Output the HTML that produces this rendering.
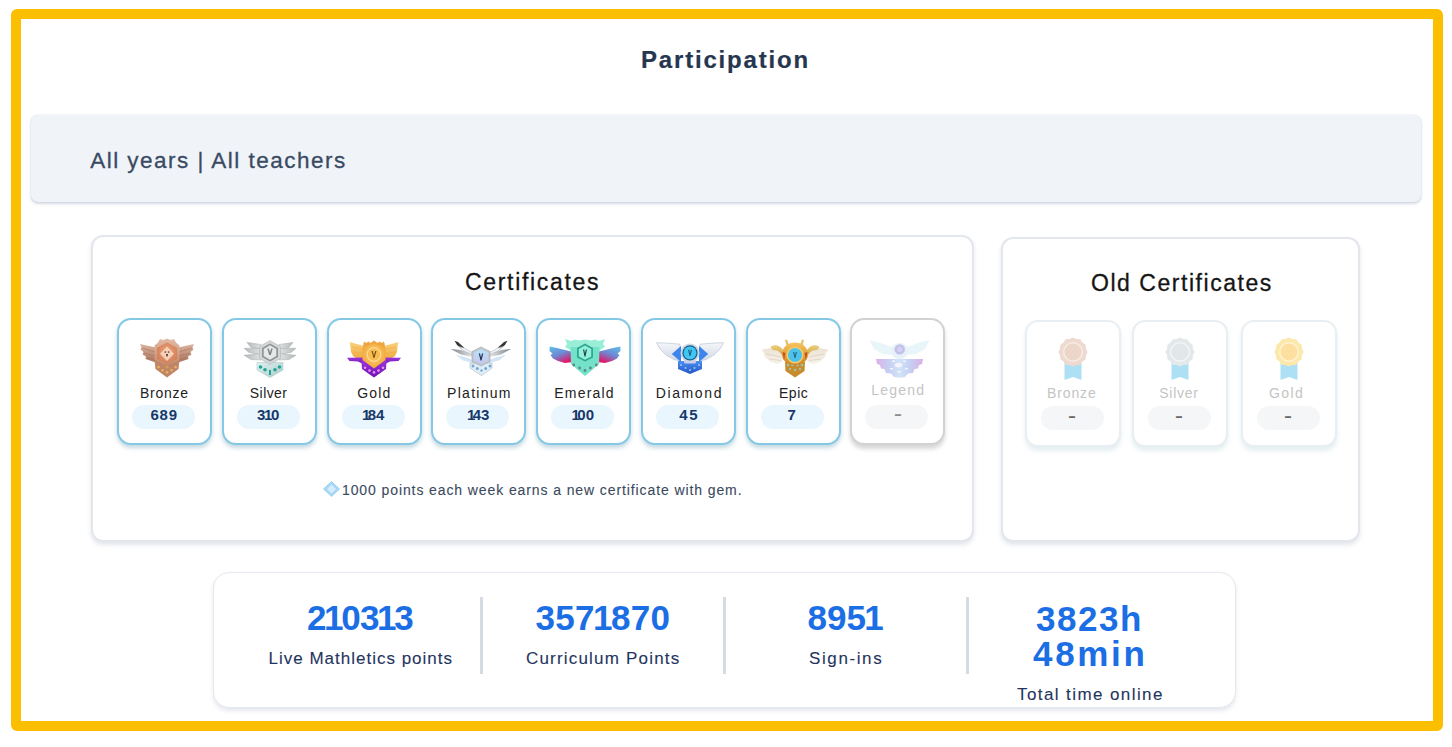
<!DOCTYPE html>
<html><head><meta charset="utf-8"><title>Participation</title>
<style>
*{box-sizing:border-box;margin:0;padding:0}
html,body{width:1452px;height:747px;overflow:hidden;background:#fff;font-family:"Liberation Sans",Arial,sans-serif}
.frame{position:absolute;left:11px;top:9px;width:1432px;height:722px;border:10px solid #fcbf00;border-radius:6px}
.t{position:absolute;white-space:nowrap;line-height:1;-webkit-text-stroke:0.3px currentColor}
#title{left:641px;top:47.5px;font-size:24px;letter-spacing:1.82px;font-weight:bold;color:#26364f;-webkit-text-stroke:0.2px currentColor}
.band{position:absolute;left:30.5px;top:115px;width:1390px;height:87px;background:#f0f4f8;border-radius:7px;box-shadow:0 0 1.5px rgba(60,80,120,.22),0 2px 3px rgba(60,80,130,.2)}
#bandt{left:90.2px;top:150px;font-size:22.5px;letter-spacing:1.48px;color:#3a4a63}
.card{position:absolute;background:#fff;border:2px solid #e3e7ec;border-radius:12px;box-shadow:0 3px 4px rgba(80,100,130,.16)}
#c1{left:90.5px;top:234.5px;width:883px;height:307.5px}
#c2{left:1001px;top:236.5px;width:359px;height:305.5px}
#ct1{left:465px;top:270.5px;font-size:23px;letter-spacing:1.67px;color:#151515}
#ct2{left:1091px;top:272px;font-size:23px;letter-spacing:1.54px;color:#151515}
.tile{position:absolute;top:318px;width:95px;height:127px;border:2px solid #84c8e6;border-radius:14px;background:#fff;box-shadow:0 3px 4px rgba(70,135,160,.32)}
.tile.gray{border-color:#d2d2d2;box-shadow:0 4px 4px rgba(0,0,0,.16)}
.pill{position:absolute;top:404.5px;width:63px;height:24px;border-radius:12px;background:#eaf6fd}
.pill.g{background:#f5f6f8}
.lb{position:absolute;font-size:14px;color:#222;line-height:1;white-space:nowrap}
.lb.g{color:#c4c4c4}
.nm{position:absolute;font-size:15px;font-weight:bold;color:#17386a;line-height:1;white-space:nowrap}
.nm.g{color:#6a6a6a}
.otile{position:absolute;top:319.5px;width:96px;height:127px;border:2px solid #e8eef1;border-radius:13px;background:#fff;box-shadow:0 4px 4px rgba(150,190,200,.25)}
.badge{position:absolute;top:338px;width:80px;height:42px}
.rose{position:absolute;top:337px;width:40px;height:44px}
#note{left:342px;top:483px;font-size:14px;letter-spacing:0.9px;color:#3a4a5e;-webkit-text-stroke:0.1px currentColor}
.gem{position:absolute;left:323px;top:481px;width:17px;height:16px}
.stats{position:absolute;left:213px;top:572px;width:1023px;height:135.5px;border:1px solid #e4e9ef;border-radius:16px;background:#fff;box-shadow:0 3px 4px rgba(80,100,130,.15)}
.div{position:absolute;top:597px;width:3px;height:77px;background:#d3dbe4}
.sn{position:absolute;font-size:35px;font-weight:bold;color:#1b6ee4;line-height:1;white-space:nowrap}
.sn .o{margin:0 -1.75px}
.sl{position:absolute;font-size:17px;color:#1f3560;line-height:1;white-space:nowrap;-webkit-text-stroke:0.1px currentColor}
</style></head><body>
<div class="frame"></div>
<div class="t" id="title">Participation</div>
<div class="band"></div>
<div class="t" id="bandt">All years | All teachers</div>
<div class="card" id="c1"></div>
<div class="card" id="c2"></div>
<div class="t" id="ct1">Certificates</div>
<div class="t" id="ct2">Old Certificates</div>

<div class="tile" style="left:117.2px"></div>
<svg class="badge" style="left:126.5px" viewBox="0 0 80 42"><defs><linearGradient id="gbw" x1="0" y1="0" x2="0" y2="1"><stop offset="0" stop-color="#dcb4a0"/><stop offset="1" stop-color="#a9735b"/></linearGradient>
<linearGradient id="gbs" x1="0" y1="0" x2="0" y2="1"><stop offset="0" stop-color="#e2bba6"/><stop offset="1" stop-color="#c68a6a"/></linearGradient>
<radialGradient id="gbi" cx="0.5" cy="0.45" r="0.6"><stop offset="0" stop-color="#f1a57c"/><stop offset="1" stop-color="#cf7c55"/></radialGradient></defs>
<path d="M29,9.5 L13,6 L14.5,9.5 L13.5,11.5 L16.5,14 L15.5,16.5 L19,18.5 L18.5,21 L23,22.5 L29,24.5 Z" fill="url(#gbw)"/>
<path d="M51,9.5 L67,6 L65.5,9.5 L66.5,11.5 L63.5,14 L64.5,16.5 L61,18.5 L61.5,21 L57,22.5 L51,24.5 Z" fill="url(#gbw)"/>
<g stroke="#a06a54" stroke-width="0.6" fill="none" opacity="0.75"><path d="M15,10 L28,14 M17,15 L28,18 M20,19.5 L28,21.5"/><path d="M65,10 L52,14 M63,15 L52,18 M60,19.5 L52,21.5"/></g>
<path d="M27.5,22 L52.5,22 L51.5,31 L40,39.5 L28.5,31 Z" fill="#bf8566"/>
<path d="M40,0.5 L43.5,2 L47,1 L49,4.5 L52.5,7.5 L52.5,22 L40,27.5 L27.5,22 L27.5,7.5 L31,4.5 L33,1 L36.5,2 Z" fill="url(#gbs)"/>
<path d="M40,4.5 L50,9.8 L50,21 L40,25.5 L30,21 L30,9.8 Z" fill="url(#gbi)"/>
<path d="M40,8.5 L47,15.8 L40,23 L33,15.8 Z" fill="#f7d0b8"/>
<rect x="37.6" y="13.4" width="1.5" height="1.3" fill="#5a3a30"/><rect x="40.9" y="13.4" width="1.5" height="1.3" fill="#5a3a30"/><path d="M39,16 L41,16 L40.6,18.6 L39.4,18.6 Z" fill="#5a3a30"/>
<g fill="#e8b25e"><circle cx="31.5" cy="29" r="1.3"/><circle cx="35.5" cy="32.3" r="1.3"/><circle cx="40" cy="34.3" r="1.3"/><circle cx="44.5" cy="32.3" r="1.3"/><circle cx="48.5" cy="29" r="1.3"/><circle cx="40" cy="29" r="1.6" fill="#d89a58"/></g></svg>
<div class="pill" style="left:132.2px"></div>
<div class="lb" style="left:140.0px;top:385.5px;letter-spacing:0.74px">Bronze</div>
<div class="nm" style="left:150.4px;top:407.2px;letter-spacing:0.80px">689</div>
<div class="tile" style="left:221.9px"></div>
<svg class="badge" style="left:230.2px" viewBox="0 0 80 42"><defs><linearGradient id="gsw" x1="0" y1="0" x2="1" y2="0"><stop offset="0" stop-color="#b4b8b8"/><stop offset="1" stop-color="#e2e4e4"/></linearGradient>
<linearGradient id="gsw2" x1="1" y1="0" x2="0" y2="0"><stop offset="0" stop-color="#b4b8b8"/><stop offset="1" stop-color="#e2e4e4"/></linearGradient>
<linearGradient id="gsb" x1="0" y1="0" x2="1" y2="1"><stop offset="0" stop-color="#dff0f0"/><stop offset="1" stop-color="#a9cccb"/></linearGradient></defs>
<g fill="url(#gsw)" stroke="#a7acac" stroke-width="0.5"><path d="M17,4.4 L31,6.5 L31,11.5 L21,9.5 Z"/><path d="M14,10.2 L31,10.5 L31,16.5 L19,14.5 Z"/><path d="M14,17.3 L31,15.5 L31,22 L21,21.5 Z"/></g>
<g fill="url(#gsw2)" stroke="#a7acac" stroke-width="0.5"><path d="M63,4.4 L49,6.5 L49,11.5 L59,9.5 Z"/><path d="M66,10.2 L49,10.5 L49,16.5 L61,14.5 Z"/><path d="M66,17.3 L49,15.5 L49,22 L59,21.5 Z"/></g>
<path d="M27,24.5 L53,24.5 L53,32 L40,39.5 L27,32 Z" fill="url(#gsb)" stroke="#a5c0c0" stroke-width="0.5"/>
<g fill="#22a596"><circle cx="30.5" cy="29" r="1.8"/><circle cx="35" cy="31.8" r="1.8"/><circle cx="45" cy="31.8" r="1.8"/><circle cx="49.5" cy="29" r="1.8"/><rect x="39" y="32" width="2" height="5"/></g>
<path d="M40,2.5 L50.5,8.5 L50.5,20.5 L40,26.5 L29.5,20.5 L29.5,8.5 Z" fill="#d3d6d6" stroke="#b4b9b9" stroke-width="0.6"/>
<path d="M40,5.5 L48,10 L48,19 L40,23.5 L32,19 L32,10 Z" fill="#8d9595"/>
<path d="M40,7.3 L46.3,11 L46.3,18 L40,21.7 L33.7,18 L33.7,11 Z" fill="#e6e8e8"/>
<path d="M37.3,10.5 L39.2,17 L40.8,17 L42.7,10.5 L41.2,10.5 L40,14.5 L38.8,10.5 Z" fill="#7b8383"/></svg>
<div class="pill" style="left:236.9px"></div>
<div class="lb" style="left:249.8px;top:385.5px;letter-spacing:0.44px">Silver</div>
<div class="nm" style="left:257.0px;top:407.2px;letter-spacing:0px">3<span style="margin:0 -1.3px">1</span>0</div>
<div class="tile" style="left:326.6px"></div>
<svg class="badge" style="left:334.2px" viewBox="0 0 80 42"><defs><linearGradient id="ggw" x1="0" y1="0" x2="0" y2="1"><stop offset="0" stop-color="#f9d27e"/><stop offset="1" stop-color="#f0aa40"/></linearGradient>
<linearGradient id="ggp" x1="0" y1="0" x2="0" y2="1"><stop offset="0" stop-color="#9b35dc"/><stop offset="1" stop-color="#6c12b4"/></linearGradient>
<radialGradient id="ggc" cx="0.5" cy="0.45" r="0.6"><stop offset="0" stop-color="#fcd27a"/><stop offset="1" stop-color="#f3a534"/></radialGradient></defs>
<path d="M30,8 L15.7,4 L16.5,9 L17,14 L19,18 L22,20 L30,21 Z" fill="url(#ggw)"/>
<path d="M50,8 L64.3,4 L63.5,9 L63,14 L61,18 L58,20 L50,21 Z" fill="url(#ggw)"/>
<g stroke="#e09a30" stroke-width="0.5" opacity="0.6"><path d="M18,9 L29,11 M19,14 L29,15.5"/><path d="M62,9 L51,11 M61,14 L51,15.5"/></g>
<path d="M13,19.8 L31,19.5 L32,27.5 L24,23.5 L15.5,23 Z" fill="url(#ggp)"/>
<path d="M67,19.8 L49,19.5 L48,27.5 L56,23.5 L64.5,23 Z" fill="url(#ggp)"/>
<path d="M27.5,22.5 L52.5,22.5 L52,31 L40,39.5 L28,31 Z" fill="url(#ggp)"/>
<g fill="#f08ef0"><circle cx="31" cy="29.8" r="1.3"/><circle cx="35.5" cy="32.6" r="1.3"/><circle cx="40" cy="34.4" r="1.3"/><circle cx="44.5" cy="32.6" r="1.3"/><circle cx="49" cy="29.8" r="1.3"/></g>
<path d="M29.5,5 L30.5,3.5 L32,5 L34.5,3.5 L36.5,5 L40,2.5 L43.5,5 L45.5,3.5 L48,5 L49.5,3.5 L50.5,5 L51,9 L29,9 Z" fill="#eea640"/>
<path d="M40,5.5 L51.5,9.5 L51.5,22 L40,30.5 L28.5,22 L28.5,9.5 Z" fill="url(#ggc)"/>
<circle cx="40" cy="16.5" r="6.8" fill="#f8bd52" stroke="#fbdc98" stroke-width="1.2"/>
<path d="M37.5,13 L39.5,20 L40.5,20 L42.5,13 L41.2,13 L40,17.5 L38.8,13 Z" fill="#7e5014"/></svg>
<div class="pill" style="left:341.6px"></div>
<div class="lb" style="left:357.2px;top:385.5px;letter-spacing:1.20px">Gold</div>
<div class="nm" style="left:362.0px;top:407.2px;letter-spacing:0px"><span style="margin-right:-2.6px">1</span>84</div>
<div class="tile" style="left:431.4px"></div>
<svg class="badge" style="left:440.6px" viewBox="0 0 80 42"><defs><linearGradient id="gpg" x1="0" y1="0" x2="1" y2="0"><stop offset="0" stop-color="#7d8186"/><stop offset="1" stop-color="#e4e7ea"/></linearGradient>
<linearGradient id="gpg2" x1="1" y1="0" x2="0" y2="0"><stop offset="0" stop-color="#7d8186"/><stop offset="1" stop-color="#e4e7ea"/></linearGradient>
<linearGradient id="gph" x1="0" y1="0" x2="0" y2="1"><stop offset="0" stop-color="#b6e4f8"/><stop offset="1" stop-color="#c8c6f0"/></linearGradient></defs>
<path d="M13.5,2.8 L17,4 L23,9.5 L21.5,11.5 L16,7 Z" fill="#353535"/>
<path d="M66.5,2.8 L63,4 L57,9.5 L58.5,11.5 L64,7 Z" fill="#353535"/>
<path d="M9.8,10.9 L20,12 L31,16 L31,19 L20,16.5 Z" fill="url(#gpg)"/>
<path d="M70.2,10.9 L60,12 L49,16 L49,19 L60,16.5 Z" fill="url(#gpg2)"/>
<path d="M18,8.5 L23,10 L32,15 L31,16.5 L22,12.5 Z" fill="#f4f5f6" stroke="#9aa0a6" stroke-width="0.5"/>
<path d="M62,8.5 L57,10 L48,15 L49,16.5 L58,12.5 Z" fill="#f4f5f6" stroke="#9aa0a6" stroke-width="0.5"/>
<path d="M14.7,16.7 L24,19 L32,22 L32,25 L22,22.5 Z" fill="#d2e4f6"/>
<path d="M65.3,16.7 L56,19 L48,22 L48,25 L58,22.5 Z" fill="#d2e4f6"/>
<path d="M29,25 L51,25 L51,30 L40.5,37.6 L29,30 Z" fill="#e0eef8" stroke="#a8b4c0" stroke-width="0.6"/>
<g fill="#74a8d2"><circle cx="32" cy="28" r="1.5"/><circle cx="36.3" cy="30.5" r="1.5"/><circle cx="44.7" cy="30.5" r="1.5"/><circle cx="49" cy="28" r="1.5"/><circle cx="40.5" cy="32.5" r="1.2"/></g>
<path d="M40,9 L49,13.5 L49,23.5 L40,28 L31,23.5 L31,13.5 Z" fill="#c2c8ce" stroke="#9aa2aa" stroke-width="0.6"/>
<path d="M40,11.3 L47,14.8 L47,22.5 L40,26 L33,22.5 L33,14.8 Z" fill="url(#gph)"/>
<path d="M37.8,15.5 L39.5,22.5 L40.5,22.5 L42.2,15.5 L41,15.5 L40,19.5 L39,15.5 Z" fill="#22304e"/></svg>
<div class="pill" style="left:446.4px"></div>
<div class="lb" style="left:447.1px;top:385.5px;letter-spacing:1.27px">Platinum</div>
<div class="nm" style="left:467.0px;top:407.2px;letter-spacing:0px"><span style="margin-right:-2.6px">1</span>43</div>
<div class="tile" style="left:536.1px"></div>
<svg class="badge" style="left:544.5px" viewBox="0 0 80 42"><defs><linearGradient id="gew" x1="0" y1="0" x2="0.6" y2="1"><stop offset="0" stop-color="#5cc0ea"/><stop offset="0.55" stop-color="#6f86d2"/><stop offset="1" stop-color="#e2186a"/></linearGradient>
<linearGradient id="gew2" x1="1" y1="0" x2="0.4" y2="1"><stop offset="0" stop-color="#5cc0ea"/><stop offset="0.55" stop-color="#6f86d2"/><stop offset="1" stop-color="#e2186a"/></linearGradient></defs>
<path d="M4.7,8.5 L12,10 L20,12 L28,14 L28,24 L20,25 L13,23 L8,20.5 L5.5,17 L7.5,15.5 L4.5,13 Z" fill="url(#gew)"/>
<path d="M75.3,8.5 L68,10 L60,12 L52,14 L52,24 L60,25 L67,23 L72,20.5 L74.5,17 L72.5,15.5 L75.5,13 Z" fill="url(#gew2)"/>
<path d="M20,1 L26,3 L30,1.5 L34,2.5 L40,1.5 L46,2.5 L50,1.5 L54,3 L60,1 L58,6 L60,9 L55,12 L53,15 L27,15 L25,12 L20,9 L22,6 Z" fill="#9aeed8"/>
<path d="M25.5,9 L54.5,9 L54,26 L40,38 L26,26 Z" fill="#74e2c8"/>
<path d="M40,5.6 L48,10 L48,19.5 L40,23.5 L32,19.5 L32,10 Z" fill="#2ea88e"/>
<path d="M40,7.6 L46.2,11.1 L46.2,18.5 L40,21.7 L33.8,18.5 L33.8,11.1 Z" fill="#92f0dc"/>
<path d="M38,11.5 L39.5,18.5 L40.5,18.5 L42,11.5 L40.8,11.5 L40,15.2 L39.2,11.5 Z" fill="#1a4842"/>
<g fill="#5b8c84"><circle cx="28.7" cy="27" r="1.4"/><circle cx="34.6" cy="30" r="1.4"/><circle cx="40" cy="32.5" r="1.4"/><circle cx="45.4" cy="30" r="1.4"/><circle cx="51.3" cy="27" r="1.4"/></g></svg>
<div class="pill" style="left:551.1px"></div>
<div class="lb" style="left:554.3px;top:385.5px;letter-spacing:1.20px">Emerald</div>
<div class="nm" style="left:571.6px;top:407.2px;letter-spacing:0px"><span style="margin-right:-2.6px">1</span>00</div>
<div class="tile" style="left:640.8px"></div>
<svg class="badge" style="left:649.5px" viewBox="0 0 80 42"><defs><linearGradient id="gdw" x1="0" y1="0" x2="0" y2="1"><stop offset="0" stop-color="#f4f6fa"/><stop offset="1" stop-color="#d0d9e6"/></linearGradient>
<linearGradient id="gdb" x1="0" y1="0" x2="0" y2="1"><stop offset="0" stop-color="#4a90f0"/><stop offset="1" stop-color="#2456c6"/></linearGradient></defs>
<path d="M6.5,4.7 L18,5.2 L30,6.2 L30,23 L24,21.5 L16,17 L10,11 Z" fill="url(#gdw)" stroke="#bcc6d4" stroke-width="0.7"/>
<path d="M73.5,4.7 L62,5.2 L50,6.2 L50,23 L56,21.5 L64,17 L70,11 Z" fill="url(#gdw)" stroke="#bcc6d4" stroke-width="0.7"/>
<path d="M21.8,16 L31,8 L31,24 Z" fill="#3d84ec"/>
<path d="M58.2,16 L49,8 L49,24 Z" fill="#3d84ec"/>
<path d="M28,23 L52,23 L52,31 L40,36 L28,31 Z" fill="url(#gdb)"/>
<g fill="#a8c0f6"><circle cx="31" cy="27" r="1"/><circle cx="35.5" cy="30" r="1"/><circle cx="40" cy="32" r="1"/><circle cx="44.5" cy="30" r="1"/><circle cx="49" cy="27" r="1"/></g>
<rect x="34" y="21.5" width="12" height="4" rx="1.5" fill="#cfc8ec"/>
<circle cx="40" cy="14.9" r="9.5" fill="#cdd6e4"/>
<circle cx="40" cy="14.9" r="7.6" fill="#1c5f8e"/>
<circle cx="40" cy="14.9" r="6.4" fill="#40c6f2"/>
<path d="M38,11.8 L39.5,18 L40.5,18 L42,11.8 L40.8,11.8 L40,15.3 L39.2,11.8 Z" fill="#1f5f8a"/></svg>
<div class="pill" style="left:655.8px"></div>
<div class="lb" style="left:655.7px;top:385.5px;letter-spacing:1.62px">Diamond</div>
<div class="nm" style="left:679.2px;top:407.2px;letter-spacing:1.60px">45</div>
<div class="tile" style="left:745.5px"></div>
<svg class="badge" style="left:755.0px" viewBox="0 0 80 42"><defs><linearGradient id="gxw" x1="0" y1="0" x2="0" y2="1"><stop offset="0" stop-color="#ece3d4"/><stop offset="1" stop-color="#f7f1ea"/></linearGradient>
<linearGradient id="gxb" x1="0" y1="0" x2="0" y2="1"><stop offset="0" stop-color="#f6c45e"/><stop offset="1" stop-color="#d08422"/></linearGradient>
<linearGradient id="gxh" x1="0" y1="0" x2="0" y2="1"><stop offset="0" stop-color="#ecd07a"/><stop offset="1" stop-color="#c99a3a"/></linearGradient></defs>
<path d="M6.7,11.5 L16,10 L27,13 L27.5,24 L22,26 L15,23.5 L10,19 L9,15.5 Z" fill="url(#gxw)"/>
<path d="M73.3,11.5 L64,10 L53,13 L52.5,24 L58,26 L65,23.5 L70,19 L71,15.5 Z" fill="url(#gxw)"/>
<g stroke="#cdbfa8" stroke-width="0.5" fill="none"><path d="M11,16 L26,19 M14,21 L26,22.5"/><path d="M69,16 L54,19 M66,21 L54,22.5"/></g>
<path d="M15.5,9 C19,5.5 26,7 28.5,13 L28.5,20.5 C26.5,15 23,11.5 18,12 Z" fill="url(#gxh)"/>
<path d="M64.5,9 C61,5.5 54,7 51.5,13 L51.5,20.5 C53.5,15 57,11.5 62,12 Z" fill="url(#gxh)"/>
<path d="M30,2 L32,1.5 L34,7 L31.5,7.5 Z" fill="#e6bf6a"/><path d="M49,2 L47,1.5 L45,7 L47.5,7.5 Z" fill="#e6bf6a"/>
<path d="M30,24 L50,24 L49.5,33 L40,39.5 L30.5,33 Z" fill="#c98a2a"/>
<g fill="#9fbfa6"><circle cx="33" cy="27" r="1.4"/><circle cx="37.5" cy="27" r="1.4"/><circle cx="42.5" cy="27" r="1.4"/><circle cx="47" cy="27" r="1.4"/><circle cx="35" cy="31" r="1.3"/><circle cx="40" cy="32" r="1.3"/><circle cx="45" cy="31" r="1.3"/></g>
<path d="M40,4.4 C47,4.4 53,9 53,16.5 C53,22 49,26 40,27 C31,26 27,22 27,16.5 C27,9 33,4.4 40,4.4 Z" fill="url(#gxb)"/>
<path d="M27.5,14 L29,22 L30.5,15 Z M52.5,14 L51,22 L49.5,15 Z" fill="#c8501c"/>
<circle cx="40" cy="17" r="8.6" fill="#f5cd6a"/>
<circle cx="40" cy="17" r="7.1" fill="#4fc2ea"/>
<path d="M38,14 L39.5,20 L40.5,20 L42,14 L40.8,14 L40,17.5 L39.2,14 Z" fill="#1f6a96"/></svg>
<div class="pill" style="left:760.5px"></div>
<div class="lb" style="left:779.0px;top:385.5px;letter-spacing:0.53px">Epic</div>
<div class="nm" style="left:787.6px;top:407.2px;letter-spacing:0.00px">7</div>
<div class="tile gray" style="left:850.2px"></div>
<svg class="badge" style="left:859.0px" viewBox="0 0 80 42"><defs><linearGradient id="glg" x1="0" y1="0" x2="1" y2="0"><stop offset="0" stop-color="#d39ade"/><stop offset="0.28" stop-color="#b6c4f0"/><stop offset="0.5" stop-color="#c6dcf6"/><stop offset="0.72" stop-color="#b6c4f0"/><stop offset="1" stop-color="#d39ade"/></linearGradient></defs>
<g opacity="0.78">
<path d="M10.5,2 L22,5 L33,9 L35,17 L24,16 L15,11 Z" fill="#e2f3f8"/>
<path d="M70.5,2 L59,5 L48,9 L46,17 L57,16 L66,11 Z" fill="#e2f3f8"/>
<ellipse cx="40.7" cy="13" rx="8.5" ry="8" fill="#e2eef9"/>
<path d="M17,21 L64,21 L63,26 L60,27 L59,30.5 L55.5,31 L54,35 L49,35.5 L46,39 L40.5,39.8 L35,39 L32,35.5 L27,35 L25.5,31 L22,30.5 L21,27 L18,26 Z" fill="url(#glg)"/>
<circle cx="40.7" cy="11.4" r="5.2" fill="#b0b0e4"/>
<circle cx="40.7" cy="11.4" r="2.6" fill="#c8c4ee"/>
<ellipse cx="39.5" cy="27" rx="3.8" ry="2.3" fill="#f6f0fb"/>
<g fill="#eef5fd"><rect x="33" y="22.5" width="3" height="1.4"/><rect x="44" y="22.5" width="3" height="1.4"/><rect x="31" y="30" width="3" height="1.4"/><rect x="46" y="30" width="3" height="1.4"/><rect x="38.5" y="33" width="3" height="1.4"/></g>
</g></svg>
<div class="pill g" style="left:865.2px"></div>
<div class="lb g" style="left:871.3px;top:383.3px;letter-spacing:1.22px">Legend</div>
<div class="nm g" style="left:893.5px;top:405.5px;width:8px;text-align:center;transform:scaleX(1.6);color:#8c8c8c">-</div>
<div class="otile" style="left:1024.8px"></div>
<svg class="rose" style="left:1052.8px" viewBox="0 0 40 44"><path d="M11.5,24 L28.5,24 L28.5,43 L20,40 L11.5,43 Z" fill="#ade0f4"/>
<polygon points="20.00,0.40 23.47,2.06 27.30,2.36 29.48,5.52 32.64,7.70 32.94,11.53 34.60,15.00 32.94,18.47 32.64,22.30 29.48,24.48 27.30,27.64 23.47,27.94 20.00,29.60 16.53,27.94 12.70,27.64 10.52,24.48 7.36,22.30 7.06,18.47 5.40,15.00 7.06,11.53 7.36,7.70 10.52,5.52 12.70,2.36 16.53,2.06" fill="#eedacf"/>
<circle cx="20" cy="15" r="10" fill="#f7ebe4"/><circle cx="20" cy="15" r="8.5" fill="#ecd6ca"/></svg>
<div class="pill g" style="left:1040.8px;top:405.5px"></div>
<div class="lb g" style="left:1047.0px;top:385.5px;letter-spacing:0.88px">Bronze</div>
<div class="nm g" style="left:1067.8px;top:407.5px;width:8px;text-align:center;transform:scaleX(1.6)">-</div>
<div class="otile" style="left:1132.4px"></div>
<svg class="rose" style="left:1160.4px" viewBox="0 0 40 44"><path d="M11.5,24 L28.5,24 L28.5,43 L20,40 L11.5,43 Z" fill="#ade0f4"/>
<polygon points="20.00,0.40 23.47,2.06 27.30,2.36 29.48,5.52 32.64,7.70 32.94,11.53 34.60,15.00 32.94,18.47 32.64,22.30 29.48,24.48 27.30,27.64 23.47,27.94 20.00,29.60 16.53,27.94 12.70,27.64 10.52,24.48 7.36,22.30 7.06,18.47 5.40,15.00 7.06,11.53 7.36,7.70 10.52,5.52 12.70,2.36 16.53,2.06" fill="#e3e8eb"/>
<circle cx="20" cy="15" r="10" fill="#f3f5f7"/><circle cx="20" cy="15" r="8.5" fill="#e1e6e9"/></svg>
<div class="pill g" style="left:1148.4px;top:405.5px"></div>
<div class="lb g" style="left:1159.2px;top:385.5px;letter-spacing:0.76px">Silver</div>
<div class="nm g" style="left:1175.4px;top:407.5px;width:8px;text-align:center;transform:scaleX(1.6)">-</div>
<div class="otile" style="left:1240.5px"></div>
<svg class="rose" style="left:1268.5px" viewBox="0 0 40 44"><path d="M11.5,24 L28.5,24 L28.5,43 L20,40 L11.5,43 Z" fill="#ade0f4"/>
<polygon points="20.00,0.40 23.47,2.06 27.30,2.36 29.48,5.52 32.64,7.70 32.94,11.53 34.60,15.00 32.94,18.47 32.64,22.30 29.48,24.48 27.30,27.64 23.47,27.94 20.00,29.60 16.53,27.94 12.70,27.64 10.52,24.48 7.36,22.30 7.06,18.47 5.40,15.00 7.06,11.53 7.36,7.70 10.52,5.52 12.70,2.36 16.53,2.06" fill="#fde8ac"/>
<circle cx="20" cy="15" r="10" fill="#fff3d2"/><circle cx="20" cy="15" r="8.5" fill="#fde0a0"/></svg>
<div class="pill g" style="left:1256.5px;top:405.5px"></div>
<div class="lb g" style="left:1268.9px;top:385.5px;letter-spacing:1.47px">Gold</div>
<div class="nm g" style="left:1283.5px;top:407.5px;width:8px;text-align:center;transform:scaleX(1.6)">-</div>
<svg class="gem" viewBox="0 0 17 16"><path d="M8.5,0.5 L16.5,8 L8.5,15.5 L0.5,8 Z" fill="#a6d7f5" stroke="#8fcbef" stroke-width="0.8" stroke-linejoin="round"/><path d="M8.5,3.5 L13,8 L8.5,12.5 L4,8 Z" fill="#d3edfc"/></svg>
<div class="t" id="note">1000 points each week earns a new certificate with gem.</div>
<div class="stats"></div>
<div class="div" style="left:480px"></div>
<div class="div" style="left:723px"></div>
<div class="div" style="left:966px"></div>
<div class="sn" style="left:307px;top:599.5px;letter-spacing:-0.64px">2<span class="o">1</span>03<span class="o">1</span>3</div>
<div class="sl" style="left:268.5px;top:649.5px;letter-spacing:1px">Live Mathletics points</div>
<div class="sn" style="left:535.5px;top:599.5px;letter-spacing:0.3px">357<span class="o">1</span>870</div>
<div class="sl" style="left:526px;top:649.5px;letter-spacing:1.19px">Curriculum Points</div>
<div class="sn" style="left:807.5px;top:599.5px;letter-spacing:0px">895<span class="o">1</span></div>
<div class="sl" style="left:809px;top:649.5px;letter-spacing:1.61px">Sign-ins</div>
<div class="sn" style="left:1036px;top:601px;letter-spacing:1.55px">3823h</div>
<div class="sn" style="left:1033px;top:636px;letter-spacing:2.67px">48min</div>
<div class="sl" style="left:1017px;top:685.5px;letter-spacing:1.41px">Total time online</div>
</body></html>
